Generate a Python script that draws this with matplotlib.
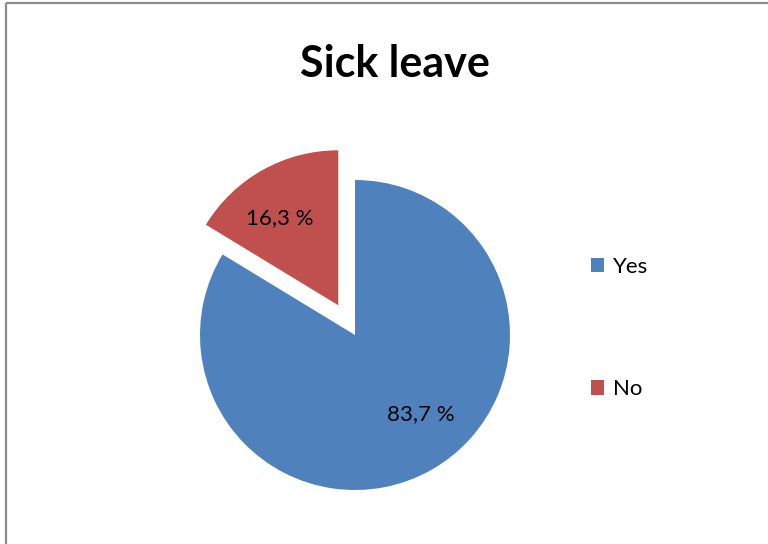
import matplotlib.pyplot as plt

labels = ["Yes", "No"]
shares = [83.7, 16.3]
colors = ["#4F81BD", "#C0504D"]

plt.rcParams['font.family'] = ['Lato', 'DejaVu Sans']

fig = plt.figure(figsize=(7.68, 5.44), dpi=100)
ax = fig.add_axes([0, 0, 1, 1])

radius = 155
# explode in pie() is in data units, here 1 unit = 1 pixel
explode = [0, 0.22 * radius]
wedges, texts, autotexts = ax.pie(
    shares, colors=colors, explode=explode, startangle=90, counterclock=False,
    center=(355, 209), radius=radius,
    autopct=lambda p: f"{p:.1f} %".replace(".", ","), pctdistance=0.66,
    textprops={"fontsize": 16, "color": "black"},
    wedgeprops={"linewidth": 0},
)
# nudge the labels like the original
x, y = autotexts[0].get_position()
autotexts[0].set_position((x + 16, y + 10))
x, y = autotexts[1].get_position()
autotexts[1].set_position((x - 8, y - 2))

# pie() resets the limits, so fix them afterwards
ax.set_xlim(0, 768)
ax.set_ylim(0, 544)
ax.set_aspect("auto")
ax.axis("off")

# outer chart frame, only top and left edges are visible
ax.plot([6, 800], [541, 541], color="#8c8c8c", linewidth=1.6, solid_capstyle="butt")
ax.plot([6, 6], [541, -10], color="#8c8c8c", linewidth=1.6, solid_capstyle="butt")

ax.text(395, 480, "Sick leave", ha="center", va="center", fontsize=31, fontweight="bold")

leg = ax.legend(wedges, labels, loc="upper left", bbox_to_anchor=(580 / 768, 1 - 246 / 544),
                frameon=False, fontsize=16, handlelength=0.6, handleheight=0.6,
                handletextpad=0.4, labelspacing=4.6, borderpad=0)

fig.savefig("out.png", dpi=100)
